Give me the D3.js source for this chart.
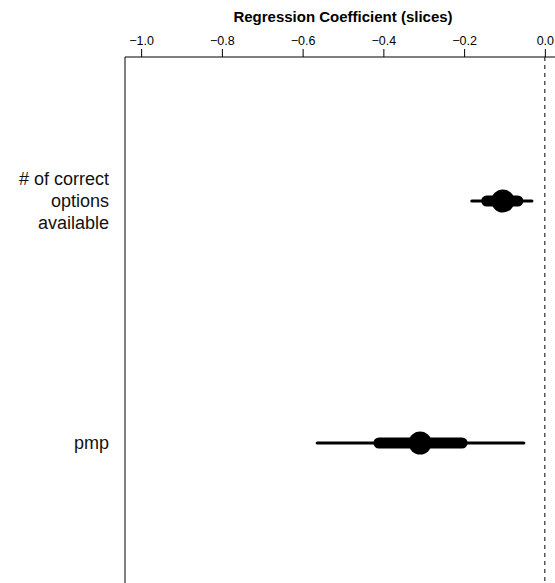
<!DOCTYPE html>
<html>
<head>
<meta charset="utf-8">
<script src="https://cdn.jsdelivr.net/npm/d3@7"></script>
<style>
  html, body { margin: 0; padding: 0; background: #fff; }
  svg { display: block; font-family: "Liberation Sans", Arial, Helvetica, sans-serif; }
</style>
</head>
<body>
<script>
// Coefficient estimates with inner (thick) and outer (thin) intervals
const categories = ["# of correct options available", "pmp"];
const labelLines = [["# of correct", "options", "available"], ["pmp"]];
const estimates  = [-0.104, -0.309];
const innerLow   = [-0.144, -0.411];
const innerHigh  = [-0.067, -0.205];
const outerLow   = [-0.181, -0.564];
const outerHigh  = [-0.032, -0.052];
const tickValues = [-1.0, -0.8, -0.6, -0.4, -0.2, 0.0];

const width = 555, height = 583;
const plot = { left: 125, top: 57, right: 561, bottom: 587 };

const svg = d3.select("body").append("svg")
  .attr("width", width).attr("height", height);

const x = d3.scaleLinear().domain([-1.04, 0.04]).range([plot.left, plot.right]);
const y = d3.scalePoint().domain(categories).range([plot.top, plot.bottom]).padding(0.595);

// top axis
const axis = d3.axisTop(x).tickValues(tickValues).tickSize(8)
  .tickFormat(d => d3.format(".1f")(d).replace("-", "\u2212"));
const gAxis = svg.append("g").attr("transform", `translate(0,${plot.top})`).call(axis);
gAxis.select(".domain").remove();
gAxis.selectAll(".tick line").attr("stroke", "#000");
gAxis.selectAll(".tick text").attr("font-size", 12.5).attr("fill", "#000").attr("dy", "-0.1em");

// frame: top and left edges
svg.append("line").attr("x1", plot.left).attr("x2", width).attr("y1", plot.top).attr("y2", plot.top)
  .attr("stroke", "#000");
svg.append("line").attr("x1", plot.left).attr("x2", plot.left).attr("y1", plot.top).attr("y2", height)
  .attr("stroke", "#000");

// axis title
svg.append("text").attr("x", x(-0.5)).attr("y", 22).attr("text-anchor", "middle")
  .attr("font-size", 15).attr("font-weight", "bold").text("Regression Coefficient (slices)");

// zero reference line
svg.append("line").attr("x1", x(0)).attr("x2", x(0)).attr("y1", plot.top).attr("y2", height)
  .attr("stroke", "#000").attr("stroke-dasharray", "4,4");

// category labels
categories.forEach((c, i) => {
  const lines = labelLines[i];
  const lh = 22;
  const t = svg.append("text").attr("text-anchor", "end").attr("font-size", 18).attr("fill", "#111");
  lines.forEach((ln, j) => {
    t.append("tspan").attr("x", 109)
      .attr("y", y(c) + (j - (lines.length - 1) / 2) * lh + 6)
      .text(ln);
  });
});

// intervals and points
const g = svg.append("g");
categories.forEach((c, i) => {
  g.append("line").attr("x1", x(outerLow[i])).attr("x2", x(outerHigh[i]))
    .attr("y1", y(c)).attr("y2", y(c)).attr("stroke", "#000").attr("stroke-width", 3)
    .attr("stroke-linecap", "round");
  g.append("line").attr("x1", x(innerLow[i])).attr("x2", x(innerHigh[i]))
    .attr("y1", y(c)).attr("y2", y(c)).attr("stroke", "#000").attr("stroke-width", 11)
    .attr("stroke-linecap", "round");
  g.append("circle").attr("cx", x(estimates[i])).attr("cy", y(c)).attr("r", 11.5).attr("fill", "#000");
});
</script>
</body>
</html>
